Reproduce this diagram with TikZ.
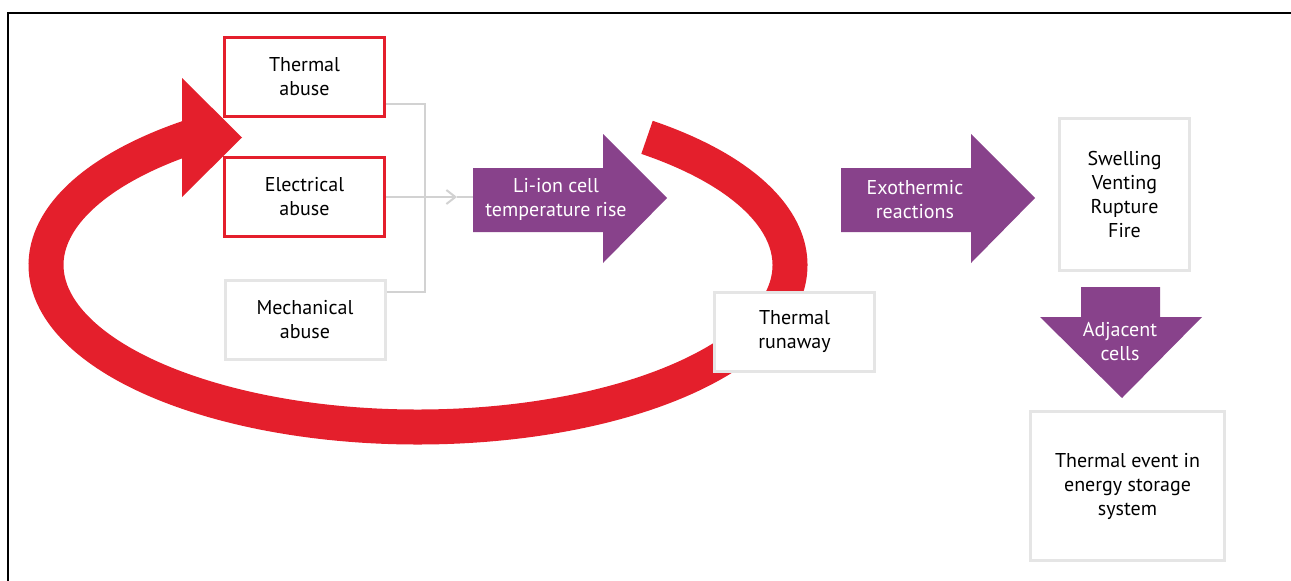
\documentclass[tikz,border=0pt]{standalone}
\usepackage{fontspec}
\setmainfont{PT Sans}
\usepackage{tikz}
\usetikzlibrary{arrows.meta}
\definecolor{abusered}{RGB}{228,31,44}
\definecolor{flowpurple}{RGB}{136,66,139}
\tikzstyle{box}=[draw=gray!20,line width=3pt,fill=white,align=center,inner sep=2pt,font=\fontsize{20}{24}\selectfont]
\tikzstyle{abuse box}=[box,minimum width=160pt,minimum height=79pt]
\tikzstyle{link}=[draw,gray!35,line width=2pt]
\tikzstyle{link arrow}=[link,-{Straight Barb[length=9pt,width=14pt]}]
\tikzstyle{flow}=[fill=flowpurple]
\tikzstyle{flow text}=[text=white,align=center,inner sep=0pt,font=\fontsize{20}{24}\selectfont]
\tikzstyle{feedback}=[draw=abusered,line width=35pt]

\begin{document}
\begin{tikzpicture}[x=1pt,y=-1pt]
    \useasboundingbox (0,0) rectangle (1291,581);
    \draw[line width=2pt] (8,581) -- (8,13) -- (1291,13);
    % feedback loop
    \draw[feedback] (418,265) ++(-52:372 and 162)
        arc[start angle=-52,end angle=233,x radius=372,y radius=162];
    \fill[abusered] (182,78) -- (242,137.5) -- (182,197) -- cycle;
    % purple arrows
    \foreach \x in {473,841}
        \fill[flow] (\x,168) -- ++(130,0) -- ++(0,-34) -- ++(64,64) -- ++(-64,65)
            -- ++(0,-31) -- ++(-130,0) -- cycle;
    \fill[flow] (1081,287) -- (1160,287) -- (1160,317) -- (1202,317) -- (1122,398)
        -- (1040,317) -- (1081,317) -- cycle;
    \node[flow text] (rise) at (556,199) {Li-ion cell\\temperature rise};
    \node[flow text] (exo) at (915,200) {Exothermic\\reactions};
    \node[flow text] (adjacent) at (1120,342) {Adjacent\\cells};
    % boxes
    \foreach \pos/\name/\col/\txt in {{(304.5,77)/thermal/abusered/Thermal\\abuse},
            {(304.5,197)/electrical/abusered/Electrical\\abuse},
            {(305,320)/mechanical/gray!20/Mechanical\\abuse}}
        \node[abuse box,draw=\col] (\name) at \pos {\txt};
    \node[box,minimum width=160pt,minimum height=79pt] (runaway) at (794.5,332) {Thermal\\runaway};
    \node[box,minimum width=130pt,minimum height=152pt] (effects) at (1124.5,194.5) {Swelling\\Venting\\Rupture\\Fire};
    \node[box,minimum width=194pt,minimum height=149pt] (event) at (1127.5,486) {Thermal event in\\energy storage\\system};
    % connectors
    \coordinate (join) at (425,197);
    \coordinate (tip) at (457,197);
    \coordinate (rise tail) at (473,197);
    \draw[link] ([yshift=-27pt]thermal.east) -| (join);
    \draw[link] ([yshift=28pt]mechanical.east) -| (join);
    \draw[link arrow] (electrical.east) -- (tip);
    \draw[link] (tip) -- (rise tail);
\end{tikzpicture}
\end{document}
